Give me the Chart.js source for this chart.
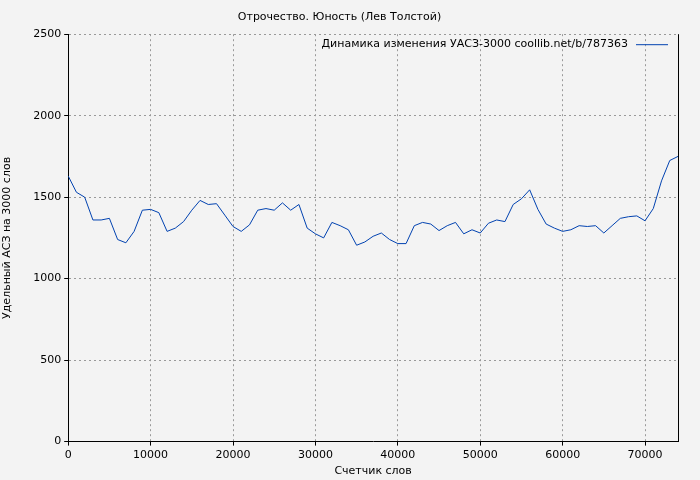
<!DOCTYPE html><html><head><meta charset="utf-8">
<script src="https://cdn.jsdelivr.net/npm/chart.js@4"></script>
<style>body{margin:0;background:#f3f3f3}#w{width:700px;height:480px}</style></head><body><div id="w"><canvas id="c"></canvas></div>
<script>
const xs=[];for(let i=0;i<=74;i++)xs.push(i*1000);
const values=[1630,1530,1500,1360,1360,1370,1240,1220,1290,1420,1425,1405,1290,1310,1350,1420,1480,1455,1460,1390,1320,1290,1330,1420,1430,1420,1465,1420,1455,1310,1275,1250,1345,1325,1300,1205,1225,1260,1280,1240,1215,1215,1325,1345,1335,1295,1325,1345,1275,1300,1280,1340,1360,1350,1455,1490,1545,1425,1335,1310,1290,1300,1325,1320,1325,1280,1325,1370,1380,1385,1355,1430,1600,1725,1750];
const xTicks=[0,10000,20000,30000,40000,50000,60000,70000];
const title='Отрочество. Юность (Лев Толстой)';
const seriesName='Динамика изменения УАСЗ-3000 coollib.net/b/787363';
const F='DejaVu Sans';
const legendPlug={id:'lg',afterDraw(ch){const c=ch.ctx,a=ch.chartArea;c.save();c.font='11px '+F;c.fillStyle='#000';c.textAlign='right';c.textBaseline='middle';const y=a.top+10;c.fillText(seriesName,a.right-50,y);c.strokeStyle='#0042b0';c.lineWidth=1;c.beginPath();c.moveTo(a.right-42,y+0.5);c.lineTo(a.right-10,y+0.5);c.stroke();
c.strokeStyle='#000';c.beginPath();c.moveTo(a.right+0.5,a.top);c.lineTo(a.right+0.5,a.bottom);c.stroke();c.restore();}};
new Chart(document.getElementById('c'),{type:'line',data:{labels:xs,datasets:[{data:xs.map((x,i)=>({x,y:values[i]})),borderColor:'#0042b0',borderWidth:1,pointRadius:0,tension:0}]},
options:{responsive:true,maintainAspectRatio:false,animation:false,layout:{padding:{left:1,right:22,top:7,bottom:2}},
plugins:{legend:{display:false},tooltip:{enabled:false},title:{display:true,text:title,font:{family:F,size:11,weight:'normal'},color:'#000',padding:{top:4,bottom:10}}},
scales:{x:{type:'linear',min:0,max:74000,afterBuildTicks:s=>{s.ticks=xTicks.map(v=>({value:v}))},ticks:{callback:v=>String(v),font:{family:F,size:11},color:'#000',maxRotation:0},grid:{color:'#999',tickColor:'#000',tickLength:4},border:{color:'#000',dash:[2,3]},title:{display:true,text:'Счетчик слов',font:{family:F,size:11},color:'#000',padding:0}},
y:{min:0,max:2500,ticks:{stepSize:500,callback:v=>String(v),font:{family:F,size:11},color:'#000'},grid:{color:'#999',tickColor:'#000',tickLength:4},border:{color:'#000',dash:[2,3]},title:{display:true,text:'Удельный АСЗ на 3000 слов',font:{family:F,size:11},color:'#000',padding:{top:0,bottom:16}}}}},plugins:[legendPlug]});
</script></body></html>
